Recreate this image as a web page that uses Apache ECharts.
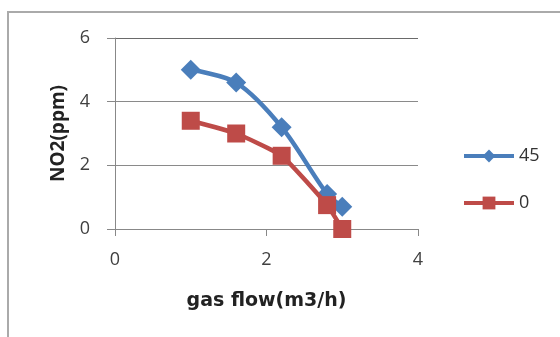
<!DOCTYPE html>
<html>
<head>
<meta charset="utf-8">
<script src="https://cdn.jsdelivr.net/npm/echarts@6/dist/echarts.min.js"></script>
<style>
  html, body { margin: 0; padding: 0; background: #fff; }
  #chart { width: 560px; height: 337px; }
</style>
</head>
<body>
<div id="chart"></div>
<script>
// gas flow (m3/h) vs NO2 (ppm)
var flow = [1.0, 1.6, 2.2, 2.8, 3.0];
var no2_45 = [5.0, 4.6, 3.2, 1.1, 0.7];
var no2_0 = [3.4, 3.0, 2.3, 0.75, 0.0];
var seriesNames = ['45', '0'];

function pairs(xs, ys) {
  return xs.map(function (x, i) { return [x, ys[i]]; });
}

var chart = echarts.init(document.getElementById('chart'));
var font = 'Open Sans';

var option = {
  animation: false,
  textStyle: { fontFamily: font },
  graphic: [{
    type: 'rect',
    shape: { x: 8, y: 12, width: 600, height: 400 },
    style: { fill: 'none', stroke: '#aaa', lineWidth: 2 },
    silent: true
  }],
  grid: { left: 115, right: 142, top: 38, bottom: 108 },
  legend: {
    orient: 'vertical',
    left: 462,
    top: 147,
    padding: 0,
    itemWidth: 50,
    itemHeight: 16,
    itemGap: 29,
    lineStyle: { width: 4 },
    textStyle: { fontSize: 18, color: '#333', fontFamily: font },
    data: seriesNames
  },
  xAxis: {
    type: 'value',
    min: 0, max: 4, interval: 2,
    name: 'gas flow(m3/h)',
    nameLocation: 'middle',
    nameGap: 63,
    nameTextStyle: { fontSize: 19, fontWeight: 'bold', color: '#222', fontFamily: 'DejaVu Sans' },
    axisLine: { show: true, lineStyle: { color: '#888' } },
    axisTick: { show: true, length: 7, lineStyle: { color: '#888' } },
    axisLabel: { fontSize: 18, color: '#404040', margin: 22 },
    splitLine: { show: false }
  },
  yAxis: {
    type: 'value',
    min: 0, max: 6, interval: 2,
    name: 'NO2(ppm)',
    nameLocation: 'middle',
    nameGap: 47,
    nameRotate: 90,
    nameTextStyle: { fontSize: 19, fontWeight: 'bold', color: '#222' },
    axisLine: { show: true, lineStyle: { color: '#888' } },
    axisTick: { show: true, length: 8, lineStyle: { color: '#888' } },
    axisLabel: { fontSize: 18, color: '#404040', margin: 25 },
    splitLine: {
      show: true,
      lineStyle: { color: ['#8a8a8a', '#8a8a8a', '#8a8a8a', '#6a6a6a'], width: 1 }
    }
  },
  series: [{
    name: seriesNames[0],
    type: 'line',
    smooth: 0.3,
    data: pairs(flow, no2_45),
    symbol: 'diamond',
    symbolSize: 20,
    lineStyle: { color: '#4a7ebb', width: 4.5 },
    itemStyle: { color: '#4a7ebb' },
    z: 3
  }, {
    name: seriesNames[1],
    type: 'line',
    smooth: 0.15,
    data: pairs(flow, no2_0),
    symbol: 'rect',
    symbolSize: 18,
    lineStyle: { color: '#be4b48', width: 4.5 },
    itemStyle: { color: '#be4b48' },
    z: 4
  }]
};
chart.setOption(option);
</script>
</body>
</html>
